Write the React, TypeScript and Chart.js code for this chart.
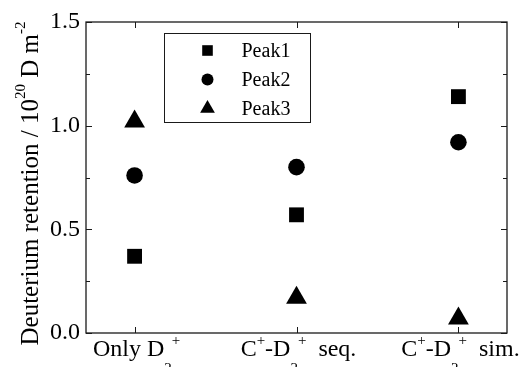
import React, { useEffect, useRef } from "react";
import { Chart, registerables } from "chart.js";

Chart.register(...registerables);

// ---- data ----
const seriesNames = ["Peak1", "Peak2", "Peak3"];
const peak1 = [0.37, 0.57, 1.14];
const peak2 = [0.76, 0.8, 0.92];
const peak3 = [1.02, 0.17, 0.07];
const yTicks = [0, 0.5, 1.0, 1.5];
const yMinorTicks = [0.25, 0.75, 1.25];
type Seg = { t?: string; sup?: string; sub?: string };
const xLabels: Seg[][] = [
  [{ t: "Only D" }, { sub: "2" }, { sup: "+" }],
  [{ t: "C" }, { sup: "+" }, { t: "-D" }, { sub: "2" }, { sup: "+" }, { t: "  seq." }],
  [{ t: "C" }, { sup: "+" }, { t: "-D" }, { sub: "2" }, { sup: "+" }, { t: "  sim." }],
];
const yTitle: Seg[] = [
  { t: "Deuterium retention / 10" },
  { sup: "20" },
  { t: " D m" },
  { sup: "-2" },
];

const FONT = "'Liberation Serif', 'Times New Roman', serif";
const INK = "#000";

function richWidth(ctx: CanvasRenderingContext2D, segs: Seg[], big: number, small: number) {
  let w = 0;
  for (const s of segs) {
    if (s.t !== undefined) {
      ctx.font = `${big}px ${FONT}`;
      w += ctx.measureText(s.t).width;
    } else {
      ctx.font = `${small}px ${FONT}`;
      w += ctx.measureText((s.sup ?? s.sub) as string).width;
    }
  }
  return w;
}

function drawRich(
  ctx: CanvasRenderingContext2D,
  segs: Seg[],
  x: number,
  baseline: number,
  big: number,
  small: number,
  raise: number,
  drop: number
) {
  let cx = x;
  ctx.textAlign = "left";
  ctx.textBaseline = "alphabetic";
  for (const s of segs) {
    if (s.t !== undefined) {
      ctx.font = `${big}px ${FONT}`;
      ctx.fillText(s.t, cx, baseline);
      cx += ctx.measureText(s.t).width;
    } else if (s.sup !== undefined) {
      ctx.font = `${small}px ${FONT}`;
      ctx.fillText(s.sup, cx, baseline - raise);
      cx += ctx.measureText(s.sup).width;
    } else if (s.sub !== undefined) {
      ctx.font = `${small}px ${FONT}`;
      ctx.fillText(s.sub, cx, baseline + drop);
      cx += ctx.measureText(s.sub).width;
    }
  }
}

function drawMarker(ctx: CanvasRenderingContext2D, style: string, x: number, y: number, r: number) {
  ctx.beginPath();
  if (style === "rect") {
    const h = r * Math.SQRT1_2;
    ctx.rect(x - h, y - h, 2 * h, 2 * h);
  } else if (style === "circle") {
    ctx.arc(x, y, r, 0, Math.PI * 2);
  } else {
    const a = Math.PI * 2 / 3;
    ctx.moveTo(x, y - r);
    ctx.lineTo(x + Math.sin(a) * r, y - Math.cos(a) * r);
    ctx.lineTo(x + Math.sin(2 * a) * r, y - Math.cos(2 * a) * r);
    ctx.closePath();
  }
  ctx.fill();
}

const styles = ["rect", "circle", "triangle"];
const radii = [10.5, 8.3, 12];
const legendRadii = [7.5, 6, 8.5];

const decorPlugin = {
  id: "decor",
  afterDraw(chart: any) {
    const ctx: CanvasRenderingContext2D = chart.ctx;
    const { left, right, top, bottom } = chart.chartArea;
    const xs = chart.scales.x;
    const ys = chart.scales.y;
    ctx.save();
    // frame
    ctx.strokeStyle = "#1a1a1a";
    ctx.lineWidth = 1.3;
    ctx.strokeRect(left, top, right - left, bottom - top);
    // x ticks (inward, top and bottom)
    ctx.lineWidth = 1;
    ctx.beginPath();
    xLabels.forEach((_, i) => {
      const px = Math.round(xs.getPixelForValue(i)) + 0.5;
      ctx.moveTo(px, bottom);
      ctx.lineTo(px, bottom - 6);
      ctx.moveTo(px, top);
      ctx.lineTo(px, top + 6);
    });
    // y ticks (inward, left and right)
    [...yTicks, ...yMinorTicks].forEach((v) => {
      const len = yTicks.includes(v) ? 6 : 4;
      const py = Math.round(ys.getPixelForValue(v)) + 0.5;
      ctx.moveTo(left, py);
      ctx.lineTo(left + len, py);
      ctx.moveTo(right, py);
      ctx.lineTo(right - len, py);
    });
    ctx.stroke();

    ctx.fillStyle = INK;
    // x category labels
    xLabels.forEach((segs, i) => {
      const w = richWidth(ctx, segs, 24, 15);
      const cx = xs.getPixelForValue(i);
      drawRich(ctx, segs, cx - w / 2 + 2, bottom + 23, 24, 15, 11, 17);
    });

    // y title
    const tw = richWidth(ctx, yTitle, 25, 15);
    ctx.save();
    ctx.translate(38, (top + bottom) / 2 + 6);
    ctx.rotate(-Math.PI / 2);
    drawRich(ctx, yTitle, -tw / 2, 0, 25, 15, 13, 6);
    ctx.restore();

    // legend
    const bx = left + 78.5;
    const by = top + 11.5;
    ctx.strokeStyle = "#1a1a1a";
    ctx.lineWidth = 1;
    ctx.strokeRect(bx, by, 146, 89);
    seriesNames.forEach((name, i) => {
      const cy = by + 17 + i * 29;
      drawMarker(ctx, styles[i], bx + 43, cy, legendRadii[i]);
      ctx.font = `20px ${FONT}`;
      ctx.textAlign = "left";
      ctx.textBaseline = "middle";
      ctx.fillText(name, bx + 77, cy + 1);
    });
    ctx.restore();
  },
};

export default function App() {
  const ref = useRef<HTMLCanvasElement>(null);
  useEffect(() => {
    if (!ref.current) return;
    const series = [peak1, peak2, peak3];
    const chart = new Chart(ref.current, {
      type: "scatter",
      data: {
        datasets: series.map((vals, i) => ({
          label: seriesNames[i],
          data: vals.map((v, j) => ({ x: j, y: v })),
          pointStyle: styles[i] as any,
          pointRadius: radii[i],
          pointHoverRadius: radii[i],
          backgroundColor: INK,
          borderColor: INK,
          borderWidth: 0,
        })),
      },
      options: {
        animation: false,
        responsive: true,
        maintainAspectRatio: false,
        layout: { padding: { top: 22, right: 13, left: 0, bottom: 0 } },
        plugins: { legend: { display: false }, tooltip: { enabled: false } },
        scales: {
          x: {
            type: "linear",
            min: -0.3,
            max: 2.3,
            ticks: { display: false },
            grid: { display: false, drawTicks: false },
            border: { display: false },
            afterFit: (s: any) => {
              s.height = 34;
            },
          },
          y: {
            min: 0,
            max: 1.5,
            afterBuildTicks: (s: any) => {
              s.ticks = yTicks.map((v) => ({ value: v }));
            },
            ticks: {
              callback: (v: any) => Number(v).toFixed(1),
              font: { family: FONT, size: 24 },
              color: INK,
              padding: 6,
            },
            grid: { display: false, drawTicks: false },
            border: { display: false },
            afterFit: (s: any) => {
              s.width = 86;
            },
          },
        },
      },
      plugins: [decorPlugin],
    });
    return () => chart.destroy();
  }, []);
  return (
    <div style={{ position: "absolute", left: 0, top: 0, width: 520, height: 367, background: "#fff" }}>
      <canvas ref={ref} />
    </div>
  );
}
